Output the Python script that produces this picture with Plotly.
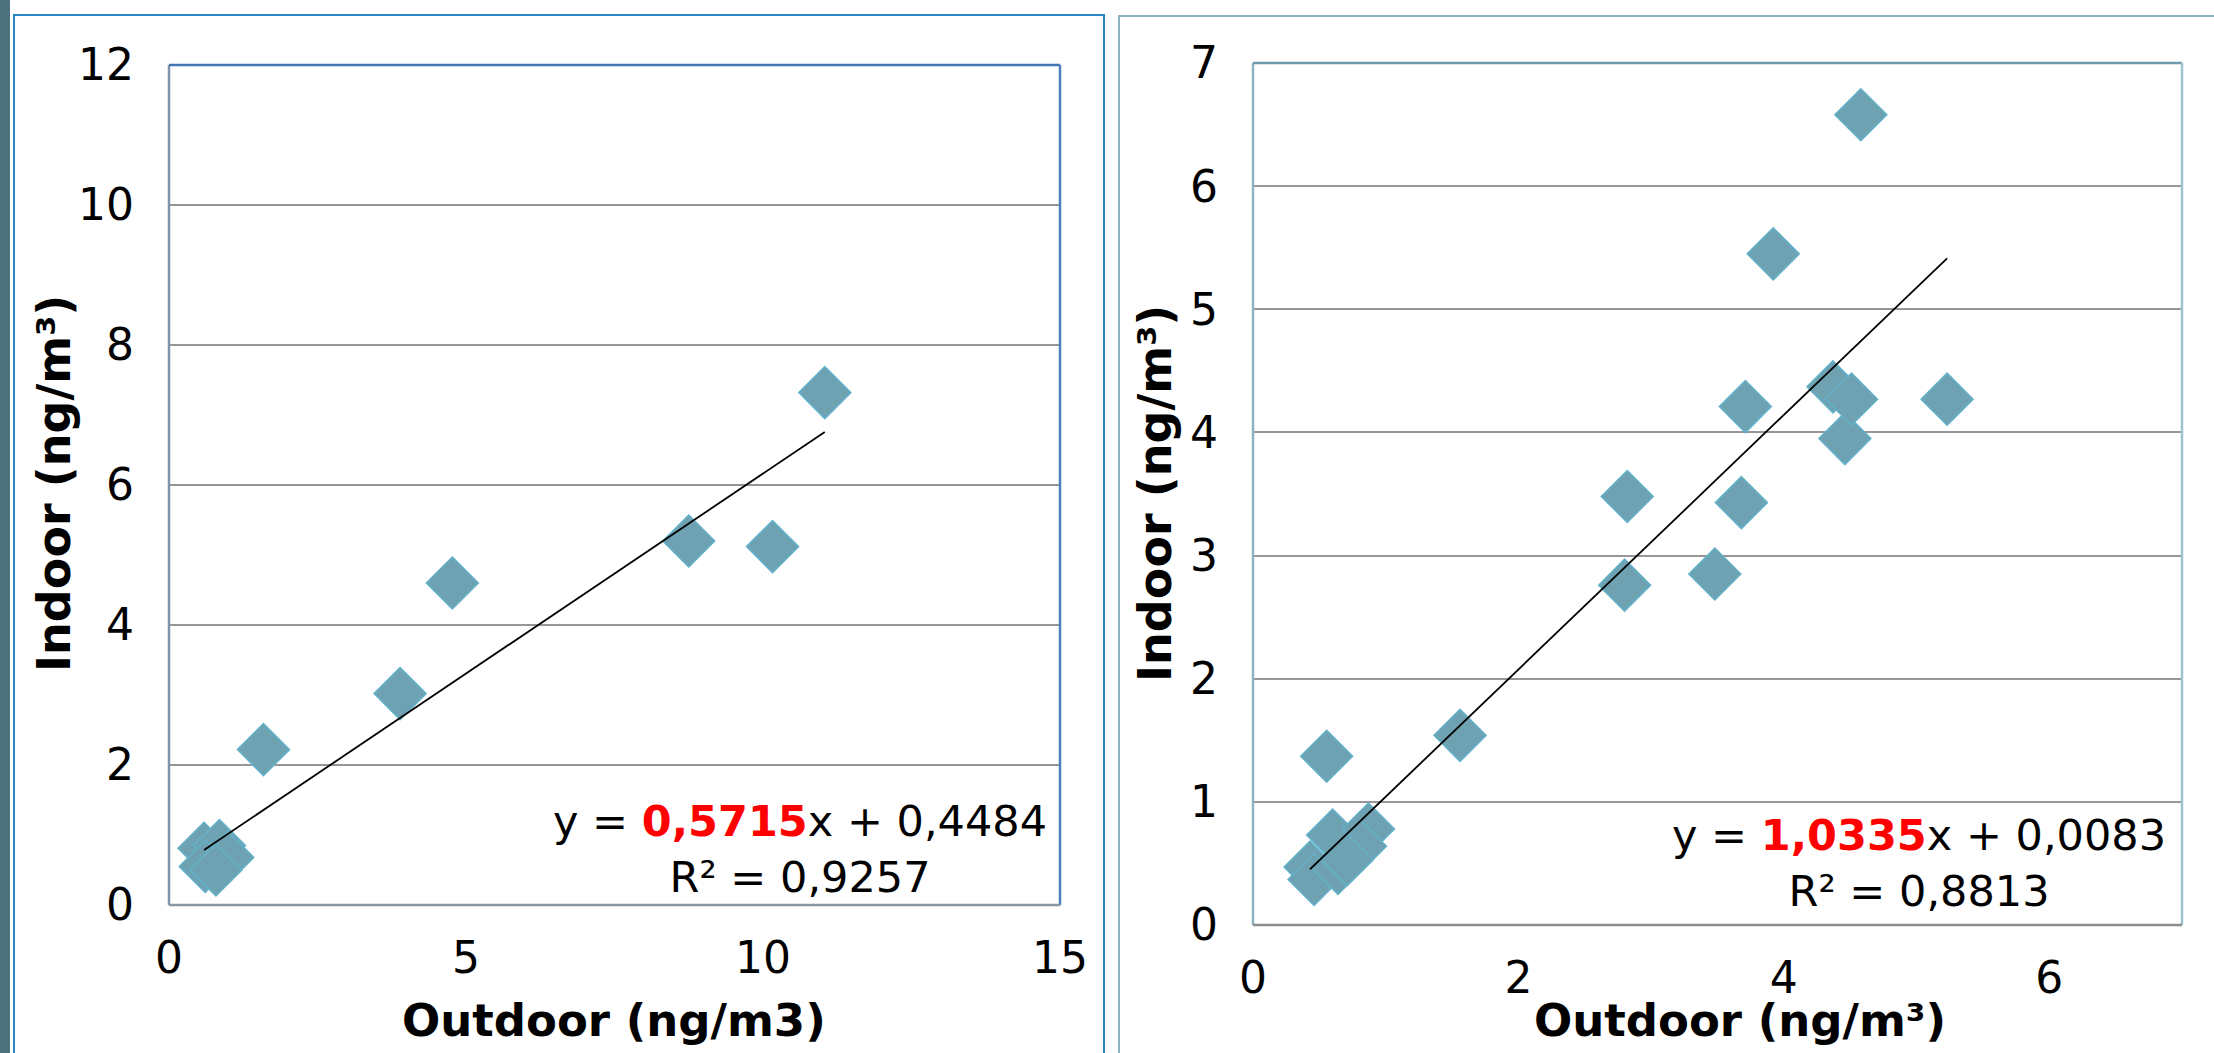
import plotly.graph_objects as go

# ---------------- data ----------------
left_outdoor = [0.59, 0.85, 0.99, 0.61, 0.79, 1.59, 3.89, 4.77, 8.75, 10.16, 11.04]
left_indoor = [0.81, 0.85, 0.68, 0.55, 0.50, 2.22, 3.02, 4.60, 5.20, 5.12, 7.32]
left_slope, left_intercept, left_r2 = 0.5715, 0.4484, 0.9257

right_outdoor = [0.43, 0.46, 0.60, 0.87, 0.81, 0.64, 0.71, 0.555, 1.56, 2.80, 2.82,
                 3.48, 3.68, 3.71, 3.92, 4.37, 4.46, 4.51, 4.58, 5.23]
right_indoor = [0.47, 0.37, 0.73, 0.78, 0.64, 0.46, 0.53, 1.37, 1.54, 2.76, 3.48,
                2.85, 3.43, 4.21, 5.45, 4.37, 3.95, 4.27, 6.58, 4.27]
right_slope, right_intercept, right_r2 = 1.0335, 0.0083, 0.8813

left_xticks = [0, 5, 10, 15]
left_yticks = [0, 2, 4, 6, 8, 10, 12]
right_xticks = [0, 2, 4, 6]
right_yticks = [0, 1, 2, 3, 4, 5, 6, 7]

x_title_left = "Outdoor (ng/m3)"
x_title_right = "Outdoor (ng/m³)"
y_title = "Indoor (ng/m³)"

# ---------------- layout helpers ----------------
W, H = 2214, 1053
def px(x):
    return x / W
def py(y):
    return 1 - y / H

FONT = "DejaVu Sans"
MARKER_FILL = "#6ea2b2"
MARKER_EDGE = "#62b2ca"
GRID = "#969696"

fig = go.Figure()

def fmt(v):
    return f"{v:.4f}".replace(".", ",")

def add_panel(xs, ys, slope, intercept, xa, ya):
    fig.add_trace(go.Scatter(
        x=xs, y=ys, mode="markers", xaxis=xa, yaxis=ya,
        marker=dict(symbol="diamond", size=40, color=MARKER_FILL,
                    line=dict(color=MARKER_EDGE, width=1.5)),
        hoverinfo="x+y"))
    x0, x1 = min(xs), max(xs)
    fig.add_trace(go.Scatter(
        x=[x0, x1], y=[slope * x0 + intercept, slope * x1 + intercept],
        mode="lines", xaxis=xa, yaxis=ya,
        line=dict(color="black", width=1.8), hoverinfo="skip"))

add_panel(left_outdoor, left_indoor, left_slope, left_intercept, "x", "y")
add_panel(right_outdoor, right_indoor, right_slope, right_intercept, "x2", "y2")

# plot-area pixel boxes
L = dict(x0=169, x1=1060, y0=65, y1=905)
R = dict(x0=1253, x1=2182, y0=63, y1=925)

tickfont = dict(family=FONT, size=44, color="black")

def xaxis(box, ticks, rng, anchor):
    return dict(domain=[px(box["x0"]), px(box["x1"])], range=rng,
                tickvals=ticks, ticks="", showgrid=False, zeroline=False,
                showline=False, tickfont=tickfont, ticklabelstandoff=23,
                automargin=False, anchor=anchor, fixedrange=True)

def yaxis(box, ticks, rng, anchor):
    return dict(domain=[py(box["y1"]), py(box["y0"])], range=rng,
                tickvals=ticks, ticks="", showgrid=True, gridcolor=GRID,
                gridwidth=2, zeroline=False, showline=False,
                tickfont=tickfont, ticklabelstandoff=34, anchor=anchor,
                automargin=False, fixedrange=True)

shapes = []
# dark strip on the far left
shapes.append(dict(type="rect", xref="paper", yref="paper",
                   x0=px(-2), x1=px(10), y0=py(1060), y1=py(-5),
                   fillcolor="#4d727e", line=dict(width=0), layer="below"))
# outer frames
shapes.append(dict(type="rect", xref="paper", yref="paper",
                   x0=px(14), x1=px(1104), y0=py(1070), y1=py(15),
                   line=dict(color="#2a86c2", width=2), layer="below"))
shapes.append(dict(type="rect", xref="paper", yref="paper",
                   x0=px(1119), x1=px(2240), y0=py(1070), y1=py(16),
                   line=dict(color="#8db2c1", width=2), layer="below"))

def border(box, left_c, top_c, right_c, bottom_c):
    x0, x1, y0, y1 = px(box["x0"]), px(box["x1"]), py(box["y1"]), py(box["y0"])
    for (a, b, c, d, col) in [(x0, y0, x0, y1, left_c), (x0, y1, x1, y1, top_c),
                              (x1, y1, x1, y0, right_c), (x0, y0, x1, y0, bottom_c)]:
        shapes.append(dict(type="line", xref="paper", yref="paper",
                           x0=a, y0=b, x1=c, y1=d,
                           line=dict(color=col, width=2.5), layer="above"))

border(L, "#7f93ad", "#3f74b3", "#4b7fbd", "#8a95a2")
border(R, "#8fb3c2", "#6f9bac", "#9cc1d0", "#8c8c8c")

annotations = []
def ann(text, x, y, size, bold=False, angle=0):
    annotations.append(dict(text=f"<b>{text}</b>" if bold else text,
                            xref="paper", yref="paper", x=px(x), y=py(y),
                            xanchor="center", yanchor="middle", showarrow=False,
                            textangle=angle,
                            font=dict(family=FONT, size=size, color="black")))

ann(x_title_left, 614, 1020, 45, bold=True)
ann(x_title_right, 1740, 1020, 45, bold=True)
ann(y_title, 54, 484, 46, bold=True, angle=-90)
ann(y_title, 1155, 494, 46, bold=True, angle=-90)

def eq_text(slope, intercept, r2):
    return (f"y = <b><span style='color:#ff0000'>{fmt(slope)}</span></b>x + {fmt(intercept)}"
            f"<br>R² = {fmt(r2)}")

annotations.append(dict(text=eq_text(left_slope, left_intercept, left_r2),
                        xref="paper", yref="paper", x=px(800), y=py(849),
                        xanchor="center", yanchor="middle", align="center",
                        showarrow=False,
                        font=dict(family=FONT, size=43, color="black")))
annotations.append(dict(text=eq_text(right_slope, right_intercept, right_r2),
                        xref="paper", yref="paper", x=px(1919), y=py(863),
                        xanchor="center", yanchor="middle", align="center",
                        showarrow=False,
                        font=dict(family=FONT, size=43, color="black")))

fig.update_layout(
    width=W, height=H, margin=dict(l=0, r=0, t=0, b=0, autoexpand=False),
    paper_bgcolor="white", plot_bgcolor="white", showlegend=False,
    xaxis=xaxis(L, left_xticks, [0, 15], "y"),
    yaxis=yaxis(L, left_yticks, [0, 12], "x"),
    xaxis2=xaxis(R, right_xticks, [0, 7], "y2"),
    yaxis2=yaxis(R, right_yticks, [0, 7], "x2"),
    shapes=shapes, annotations=annotations,
)

fig.write_html("out.html",
               config=dict(displayModeBar=False),
               post_script="document.body.style.margin='0px';"
                           "document.body.style.overflow='hidden';")
